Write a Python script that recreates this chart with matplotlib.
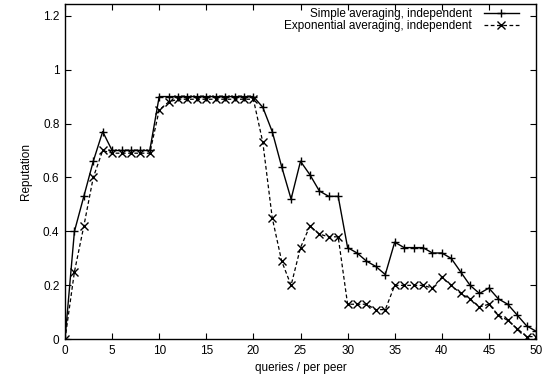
import matplotlib
matplotlib.use("Agg")
import matplotlib.pyplot as plt
import numpy as np

queries = list(range(0, 51))
simple_avg = [0.00, 0.40, 0.53, 0.66, 0.77, 0.70, 0.70, 0.70, 0.70, 0.70,
              0.90, 0.90, 0.90, 0.90, 0.90, 0.90, 0.90, 0.90, 0.90, 0.90,
              0.90, 0.86, 0.77, 0.64, 0.52, 0.66, 0.61, 0.55, 0.53, 0.53,
              0.34, 0.32, 0.29, 0.27, 0.24, 0.36, 0.34, 0.34, 0.34, 0.32,
              0.32, 0.30, 0.25, 0.20, 0.17, 0.19, 0.15, 0.13, 0.09, 0.05,
              0.03]
exp_avg = [0.00, 0.25, 0.42, 0.60, 0.70, 0.69, 0.69, 0.69, 0.69, 0.69,
           0.85, 0.88, 0.89, 0.89, 0.89, 0.89, 0.89, 0.89, 0.89, 0.89,
           0.89, 0.73, 0.45, 0.29, 0.20, 0.34, 0.42, 0.39, 0.38, 0.38,
           0.13, 0.13, 0.13, 0.11, 0.11, 0.20, 0.20, 0.20, 0.20, 0.19,
           0.23, 0.20, 0.17, 0.15, 0.12, 0.13, 0.09, 0.07, 0.04, 0.01,
           0.01]
labels = ["Simple averaging, independent", "Exponential averaging, independent"]
xticks = [0, 5, 10, 15, 20, 25, 30, 35, 40, 45, 50]
yticks = [0, 0.2, 0.4, 0.6, 0.8, 1.0, 1.2]
yticklabels = ["0", "0.2", "0.4", "0.6", "0.8", "1", "1.2"]

plt.rcParams['font.family'] = ['Liberation Sans', 'DejaVu Sans']
FS = 8.5

fig = plt.figure(figsize=(5.44, 3.82), dpi=100)
ax = fig.add_axes([65/544, 1 - 339.3/382, (536 - 65)/544, (339.3 - 3.5)/382])

ax.plot(queries, simple_avg, color='black', lw=1.0, ls='-', marker='+',
        markersize=6, mew=1.0, label=labels[0])
ax.plot(queries, exp_avg, color='black', lw=0.9, ls=(0, (3, 2)), marker='x',
        markersize=5.5, mew=1.0, label=labels[1])

ax.set_xlim(0, 50)
ax.set_ylim(0, 1.245)
ax.set_xticks(xticks)
ax.set_yticks(yticks)
ax.set_yticklabels(yticklabels)
ax.tick_params(direction='in', top=True, right=True, length=4, width=0.8,
               labelsize=FS, pad=4)
for s in ax.spines.values():
    s.set_linewidth(1.0)
    s.set_color('black')

ax.set_xlabel("queries / per peer", fontsize=FS, labelpad=4)
ax.set_ylabel("Reputation", fontsize=FS, labelpad=8)

leg = ax.legend(loc='upper right', bbox_to_anchor=(0.964, 0.986),
                frameon=False, markerfirst=False, numpoints=1,
                handlelength=3.0, handletextpad=1.0, labelspacing=0.0,
                borderpad=0, borderaxespad=0, fontsize=FS)

fig.savefig("out.png", dpi=100)
